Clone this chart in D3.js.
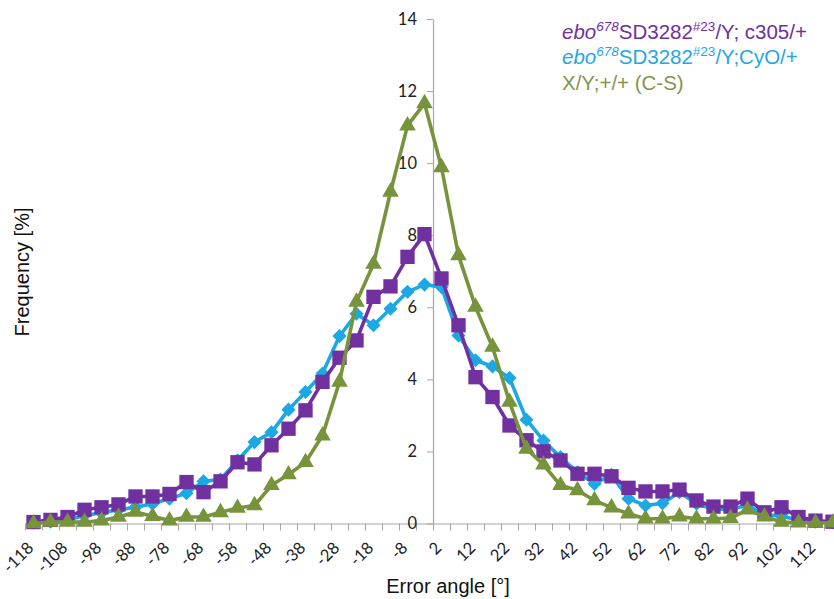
<!DOCTYPE html>
<html>
<head>
<meta charset="utf-8">
<script src="https://cdn.jsdelivr.net/npm/d3@7"></script>
<style>
  body { margin: 0; background: #fff; }
  svg { display: block; }
</style>
</head>
<body>
<div id="chart"></div>
<script>
// error angle bins (centres, degrees)
let angles = d3.range(-118, 118, 5);

// frequency [%] per bin
let c305 = [0.04, 0.10, 0.18, 0.38, 0.45, 0.53, 0.75, 0.75, 0.82, 1.15, 0.87, 1.17,
  1.70, 1.64, 2.17, 2.63, 3.14, 3.93, 4.60, 5.08, 6.29, 6.58, 7.40, 8.03,
  6.80, 5.50, 4.06, 3.51, 2.72, 2.31, 2.00, 1.75, 1.38, 1.38, 1.31, 0.99,
  0.89, 0.89, 0.94, 0.64, 0.47, 0.47, 0.69, 0.31, 0.45, 0.18, 0.08, 0.05];
let cyo = [0.02, 0.05, 0.10, 0.22, 0.30, 0.38, 0.45, 0.55, 0.69, 0.84, 1.17, 1.22,
  1.75, 2.26, 2.53, 3.16, 3.65, 4.16, 5.20, 5.82, 5.50, 5.96, 6.43, 6.63,
  6.56, 5.22, 4.53, 4.36, 4.04, 2.88, 2.30, 1.84, 1.42, 1.10, 1.35, 0.69,
  0.50, 0.56, 0.87, 0.55, 0.40, 0.40, 0.50, 0.25, 0.20, 0.10, 0.05, 0.03];
let cs = [0.00, 0.04, 0.04, 0.04, 0.08, 0.18, 0.32, 0.20, 0.08, 0.18, 0.18, 0.31,
  0.43, 0.50, 1.06, 1.36, 1.70, 2.44, 3.93, 6.15, 7.20, 9.20, 11.04, 11.66,
  9.88, 7.44, 6.01, 4.90, 3.37, 2.07, 1.63, 1.06, 0.92, 0.64, 0.44, 0.27,
  0.13, 0.13, 0.19, 0.13, 0.13, 0.15, 0.38, 0.19, 0.04, 0.02, 0.02, 0.02];

let yTicks = [0, 2, 4, 6, 8, 10, 12, 14];

const W = 834, H = 599;
const left = 25, step = 17;

const svg = d3.select("#chart").append("svg")
  .attr("width", W)
  .attr("height", H);

const x = d3.scaleBand()
  .domain(angles)
  .range([left, left + angles.length * step]);
const xi = d3.scaleLinear()
  .domain([0, angles.length])
  .range([left, left + angles.length * step]);
const y = d3.scaleLinear().domain([0, 14]).range([523.5, 19]);

const cx = d => x(d) + x.bandwidth() / 2;
const axisX = x(2); // value axis crosses between -3 and 2

// x axis: ticks between categories
const gx = svg.append("g")
  .attr("transform", `translate(0,${y(0)})`)
  .call(d3.axisBottom(xi)
    .tickValues(d3.range(0, angles.length + 1))
    .tickFormat("")
    .tickSize(7)
    .tickSizeOuter(0));
gx.select(".domain").attr("stroke", "#a6a6a6").attr("stroke-width", 1.2);
gx.selectAll(".tick line").attr("stroke", "#a6a6a6");

svg.append("g").selectAll("text")
  .data(angles.filter((d, i) => i % 2 == 0))
  .enter()
  .append("text")
    .attr("transform", d => `translate(${cx(d) + 1},549) rotate(-45)`)
    .attr("text-anchor", "end")
    .attr("font-family", "Lato, 'Open Sans', sans-serif")
    .attr("font-size", 16.5)
    .attr("fill", "#222")
    .text(d => d);

// y axis
const gy = svg.append("g")
  .attr("transform", `translate(${axisX},0)`)
  .call(d3.axisLeft(y)
    .tickValues(yTicks)
    .tickSize(6)
    .tickPadding(10)
    .tickSizeOuter(0));
gy.select(".domain").attr("stroke", "#a6a6a6").attr("stroke-width", 1.2);
gy.selectAll(".tick line").attr("stroke", "#a6a6a6");
gy.selectAll(".tick text")
  .attr("font-family", "Lato, 'Open Sans', sans-serif")
  .attr("font-size", 16.5)
  .attr("fill", "#222");

// axis titles
svg.append("text")
  .attr("x", 448)
  .attr("y", 593)
  .attr("text-anchor", "middle")
  .attr("font-family", "'Liberation Sans', Arial, sans-serif")
  .attr("font-size", 20)
  .attr("fill", "#111")
  .text("Error angle [°]");

svg.append("text")
  .attr("transform", "translate(28.5,272) rotate(-90)")
  .attr("text-anchor", "middle")
  .attr("font-family", "'Liberation Sans', Arial, sans-serif")
  .attr("font-size", 20)
  .attr("fill", "#111")
  .text("Frequency [%]");

// series
let series = [
  {name: "cyo", values: cyo, color: "#1ca8e2", symbol: d3.symbolSquare, size: 100, rotate: 45},
  {name: "c305", values: c305, color: "#7030a0", symbol: d3.symbolSquare, size: 205, rotate: 0},
  {name: "cs", values: cs, color: "#77933c", symbol: d3.symbolTriangle, size: 120, rotate: 0}
];

const line = d3.line()
  .x((d, i) => cx(angles[i]))
  .y(d => y(d));

series.forEach(s => {
  const g = svg.append("g").attr("id", s.name);
  g.append("path")
    .datum(s.values)
    .attr("fill", "none")
    .attr("stroke", s.color)
    .attr("stroke-width", 3.6)
    .attr("stroke-linejoin", "round")
    .attr("d", line);
  g.selectAll("path.marker")
    .data(s.values)
    .enter()
    .append("path")
      .attr("class", "marker")
      .attr("d", d3.symbol().type(s.symbol).size(s.size))
      .attr("transform", (d, i) => `translate(${cx(angles[i])},${y(d)}) rotate(${s.rotate})`)
      .attr("fill", s.color);
});

// legend
const legend = svg.append("g")
  .attr("font-family", "'Liberation Sans', Arial, sans-serif")
  .attr("font-size", 20.5);

function genotype(yPos, color, rest) {
  const t = legend.append("text").attr("x", 562).attr("y", yPos).attr("fill", color);
  t.append("tspan").attr("font-style", "italic").text("ebo");
  t.append("tspan").attr("font-style", "italic").attr("font-size", 13.5).attr("dy", -8).text("678");
  t.append("tspan").attr("dy", 8).text("SD3282");
  t.append("tspan").attr("font-size", 13.5).attr("dy", -8).text("#23");
  t.append("tspan").attr("dy", 8).text(rest);
}
genotype(39, "#7030a0", "/Y; c305/+");
genotype(64, "#27a7df", "/Y;CyO/+");
legend.append("text")
  .attr("x", 562)
  .attr("y", 90)
  .attr("fill", "#82964f")
  .text("X/Y;+/+ (C-S)");
</script>
</body>
</html>
